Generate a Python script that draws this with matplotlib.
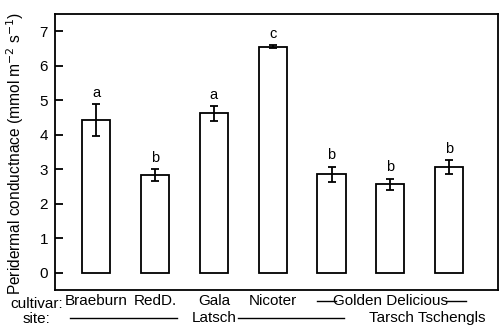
import matplotlib
matplotlib.use("Agg")
import matplotlib.pyplot as plt

plt.rcParams['font.family'] = ['Liberation Sans', 'DejaVu Sans']

cultivars = ["Braeburn", "RedD.", "Gala", "Nicoter", "", "", ""]
means = [4.43, 2.84, 4.62, 6.55, 2.86, 2.56, 3.07]
errors = [0.46, 0.17, 0.22, 0.04, 0.22, 0.17, 0.20]
letters = ["a", "b", "a", "c", "b", "b", "b"]
yticks = [0, 1, 2, 3, 4, 5, 6, 7]

fig = plt.figure(figsize=(5, 3.27), dpi=100)
ax = fig.add_axes([0.11, 0.113, 0.886, 0.844])

x = list(range(len(means)))
ax.bar(x, means, width=0.48, color="white", edgecolor="black", linewidth=1.3, zorder=2)
ax.errorbar(x, means, yerr=errors, fmt="none", ecolor="black", elinewidth=1.3,
            capsize=2.6, capthick=1.3, zorder=3)
for xi, m, e, lab in zip(x, means, errors, letters):
    ax.annotate(lab, (xi, m + e), xytext=(0, 3), textcoords="offset points",
                ha="center", va="bottom", fontsize=10.5)

ax.set_xlim(-0.7, 6.83)
ax.set_ylim(-0.5, 7.5)
ax.set_yticks(yticks)
ax.set_xticks([])
ax.tick_params(axis="y", direction="in", length=6, width=1.3, labelsize=11, pad=5)
for s in ax.spines.values():
    s.set_linewidth(1.3)

ax.set_ylabel("Peridermal conductnace (mmol m$^{-2}$ s$^{-1}$)", fontsize=11.2)
ax.yaxis.set_label_coords(-0.066, 0.495)

tr = ax.get_xaxis_transform()
y_cult = -0.04
y_site = -0.10
for xi, name in zip(x, cultivars):
    if name:
        ax.text(xi, y_cult, name, transform=tr, ha="center", va="center", fontsize=11)
ax.text(5, y_cult, "Golden Delicious", transform=tr, ha="center", va="center", fontsize=11)
ax.plot([3.75, 4.08], [y_cult, y_cult], transform=tr, color="black", lw=1, clip_on=False)
ax.plot([5.95, 6.29], [y_cult, y_cult], transform=tr, color="black", lw=1, clip_on=False)

ax.text(2, y_site, "Latsch", transform=tr, ha="center", va="center", fontsize=11)
ax.plot([-0.44, 1.37], [y_site, y_site], transform=tr, color="black", lw=1, clip_on=False)
ax.plot([2.41, 4.22], [y_site, y_site], transform=tr, color="black", lw=1, clip_on=False)
ax.text(5.62, y_site, "Tarsch Tschengls", transform=tr, ha="center", va="center", fontsize=11)

ax.text(0.018, y_cult - 0.012, "cultivar:", transform=ax.transAxes, ha="right", va="center", fontsize=11)
ax.text(-0.011, y_site - 0.005, "site:", transform=ax.transAxes, ha="right", va="center", fontsize=11)

fig.savefig("out.png", dpi=100)
